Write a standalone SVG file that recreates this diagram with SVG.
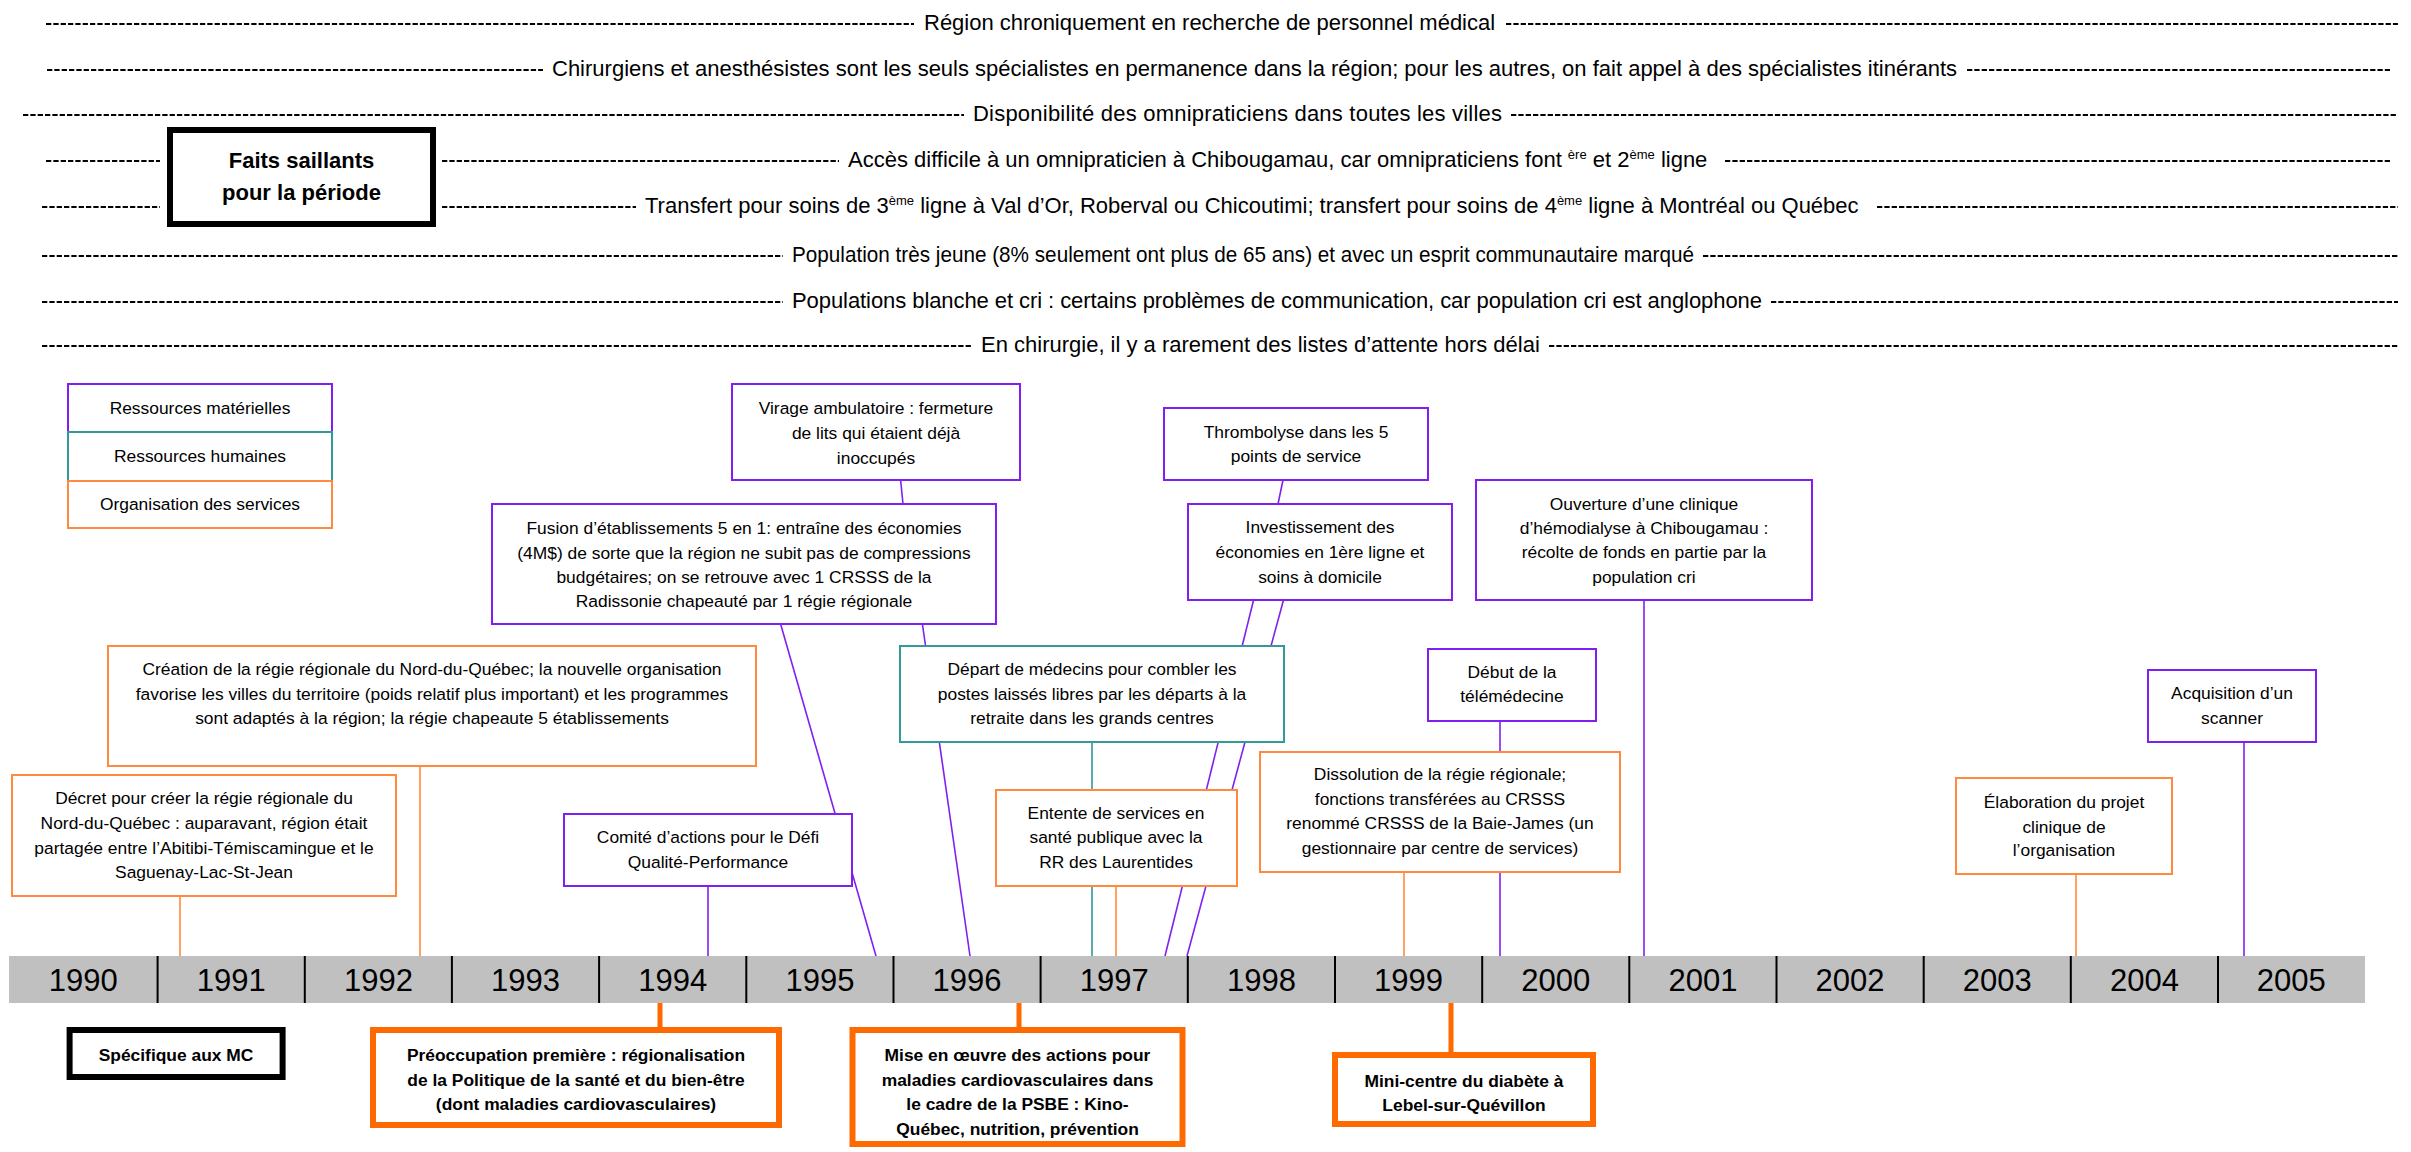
<svg xmlns="http://www.w3.org/2000/svg" width="2411" height="1152" viewBox="0 0 2411 1152">
  <style>
    text { font-family: "Liberation Sans", Arial, sans-serif; fill: #000; }
    .t { font-size: 17.4px; text-anchor: middle; }
    .top { font-size: 22px; }
    .b { font-weight: bold; }
    .sup { font-size: 13px; }
    .yr { font-size: 31px; text-anchor: middle; }
    .box { fill: #fff; stroke-width: 2; }
    .thick { fill: #fff; stroke-width: 6; }
    .mat { stroke: #8020F0; }
    .hum { stroke: #339999; }
    .org { stroke: #FF8A3D; }
    .org2 { stroke: #FF6A00; }
    .blk { stroke: #000; }
    .dash { stroke: #000; stroke-width: 1.8; stroke-dasharray: 5.3 2.03; fill: none; }
    .ln { stroke-width: 1.6; fill: none; }
    .lnk { stroke-width: 5; fill: none; stroke: #FF6A00; }
    .div { stroke: #000; stroke-width: 2; }
  </style>

  <!-- period highlights: dotted leaders with centred statements -->
  <g id="highlights">
    <path class="dash" d="M46 24H914 M1506 24H2398"/>
    <text class="top" x="924" y="30">Région chroniquement en recherche de personnel médical</text>

    <path class="dash" d="M47 70H543 M1967 70H2390"/>
    <text class="top" x="552" y="76">Chirurgiens et anesthésistes sont les seuls spécialistes en permanence dans la région; pour les autres, on fait appel à des spécialistes itinérants</text>

    <path class="dash" d="M23 115H964 M1511 115H2398"/>
    <text class="top" x="973" y="121" textLength="529" lengthAdjust="spacing">Disponibilité des omnipraticiens dans toutes les villes</text>

    <path class="dash" d="M46 161H160 M442 161H839 M1725 161H2390"/>
    <text class="top" x="848" y="167">Accès difficile à un omnipraticien à Chibougamau, car omnipraticiens font <tspan class="sup" dy="-8">ère</tspan><tspan dy="8"> et 2</tspan><tspan class="sup" dy="-8">ème</tspan><tspan dy="8"> ligne</tspan></text>

    <path class="dash" d="M42 207H160 M442 207H636 M1877 207H2398"/>
    <text class="top" x="645" y="213">Transfert pour soins de 3<tspan class="sup" dy="-8">ème</tspan><tspan dy="8"> ligne à Val d’Or, Roberval ou Chicoutimi; transfert pour soins de 4</tspan><tspan class="sup" dy="-8">ème</tspan><tspan dy="8"> ligne à Montréal ou Québec</tspan></text>

    <path class="dash" d="M42 256H783 M1703 256H2398"/>
    <text class="top" x="792" y="262" textLength="902" lengthAdjust="spacingAndGlyphs">Population très jeune (8% seulement ont plus de 65 ans) et avec un esprit communautaire marqué</text>

    <path class="dash" d="M42 302H783 M1771 302H2398"/>
    <text class="top" x="792" y="308" textLength="970" lengthAdjust="spacing">Populations blanche et cri : certains problèmes de communication, car population cri est anglophone</text>

    <path class="dash" d="M42 346H972 M1549 346H2398"/>
    <text class="top" x="981" y="352">En chirurgie, il y a rarement des listes d’attente hors délai</text>
  </g>

  <g id="faits-saillants">
    <rect class="thick blk" x="170" y="130" width="263" height="94"/>
    <text class="t b" style="font-size:22px" x="301.5" y="168">Faits saillants</text>
    <text class="t b" style="font-size:22px" x="301.5" y="200">pour la période</text>
  </g>

  <!-- legend -->
  <g id="legend">
    <rect class="box mat" x="68" y="384" width="264" height="48"/>
    <rect class="box hum" x="68" y="432" width="264" height="49"/>
    <rect class="box org" x="68" y="481" width="264" height="47"/>
    <text class="t" x="200" y="414">Ressources matérielles</text>
    <text class="t" x="200" y="462">Ressources humaines</text>
    <text class="t" x="200" y="510">Organisation des services</text>
  </g>

  <!-- connectors from events to the year bar -->
  <g id="connectors">
    <path class="ln mat" d="M900.6 480L903 504"/>
    <path class="ln mat" d="M1283 480L1278 504"/>
    <path class="ln mat" d="M780.6 624L876 956"/>
    <path class="ln mat" d="M922.4 624L970 956"/>
    <path class="ln mat" d="M1253.6 600L1165 956"/>
    <path class="ln mat" d="M1283.5 600L1187 956"/>
    <path class="ln mat" d="M1644 600V956"/>
    <path class="ln org" d="M420 766V956"/>
    <path class="ln org" d="M180 896V956"/>
    <path class="ln mat" d="M708 886V956"/>
    <path class="ln hum" d="M1092 742V956"/>
    <path class="ln org" d="M1116 886V956"/>
    <path class="ln mat" d="M1500 721V956"/>
    <path class="ln org" d="M1404 872V956"/>
    <path class="ln org" d="M2076 874V956"/>
    <path class="ln mat" d="M2244 742V956"/>
    <path class="lnk" d="M660 1003V1027 M1019 1003V1027 M1451 1003V1052"/>
  </g>

  <g id="virage">
    <rect class="box mat" x="732" y="384" width="288" height="96"/>
    <text class="t" x="876" y="414">Virage ambulatoire : fermeture</text>
    <text class="t" x="876" y="439">de lits qui étaient déjà</text>
    <text class="t" x="876" y="464">inoccupés</text>
  </g>

  <g id="thrombolyse">
    <rect class="box mat" x="1164" y="408" width="264" height="72"/>
    <text class="t" x="1296" y="438">Thrombolyse dans les 5</text>
    <text class="t" x="1296" y="462">points de service</text>
  </g>

  <g id="fusion">
    <rect class="box mat" x="492" y="504" width="504" height="120"/>
    <text class="t" x="744" y="534">Fusion d’établissements 5 en 1: entraîne des économies</text>
    <text class="t" x="744" y="559">(4M$) de sorte que la région ne subit pas de compressions</text>
    <text class="t" x="744" y="583">budgétaires; on se retrouve avec 1 CRSSS de la</text>
    <text class="t" x="744" y="607">Radissonie chapeauté par 1 régie régionale</text>
  </g>

  <g id="investissement">
    <rect class="box mat" x="1188" y="504" width="264" height="96"/>
    <text class="t" x="1320" y="533">Investissement des</text>
    <text class="t" x="1320" y="558">économies en 1ère ligne et</text>
    <text class="t" x="1320" y="583">soins à domicile</text>
  </g>

  <g id="ouverture">
    <rect class="box mat" x="1476" y="480" width="336" height="120"/>
    <text class="t" x="1644" y="510">Ouverture d’une clinique</text>
    <text class="t" x="1644" y="534">d’hémodialyse à Chibougamau :</text>
    <text class="t" x="1644" y="558">récolte de fonds en partie par la</text>
    <text class="t" x="1644" y="583">population cri</text>
  </g>

  <g id="creation">
    <rect class="box org" x="108" y="646" width="648" height="120"/>
    <text class="t" x="432" y="675">Création de la régie régionale du Nord-du-Québec; la nouvelle organisation</text>
    <text class="t" x="432" y="700">favorise les villes du territoire (poids relatif plus important) et les programmes</text>
    <text class="t" x="432" y="724">sont adaptés à la région; la régie chapeaute 5 établissements</text>
  </g>

  <g id="depart">
    <rect class="box hum" x="900" y="646" width="384" height="96"/>
    <text class="t" x="1092" y="675">Départ de médecins pour combler les</text>
    <text class="t" x="1092" y="700">postes laissés libres par les départs à la</text>
    <text class="t" x="1092" y="724">retraite dans les grands centres</text>
  </g>

  <g id="debut">
    <rect class="box mat" x="1428" y="649" width="168" height="72"/>
    <text class="t" x="1512" y="678">Début de la</text>
    <text class="t" x="1512" y="702">télémédecine</text>
  </g>

  <g id="acquisition">
    <rect class="box mat" x="2148" y="670" width="168" height="72"/>
    <text class="t" x="2232" y="699">Acquisition d’un</text>
    <text class="t" x="2232" y="724">scanner</text>
  </g>

  <g id="decret">
    <rect class="box org" x="12" y="775" width="384" height="121"/>
    <text class="t" x="204" y="804">Décret pour créer la régie régionale du</text>
    <text class="t" x="204" y="829">Nord-du-Québec : auparavant, région était</text>
    <text class="t" x="204" y="854">partagée entre l’Abitibi-Témiscamingue et le</text>
    <text class="t" x="204" y="878">Saguenay-Lac-St-Jean</text>
  </g>

  <g id="comite">
    <rect class="box mat" x="564" y="814" width="288" height="72"/>
    <text class="t" x="708" y="843">Comité d’actions pour le Défi</text>
    <text class="t" x="708" y="868">Qualité-Performance</text>
  </g>

  <g id="entente">
    <rect class="box org" x="996" y="790" width="241" height="96"/>
    <text class="t" x="1116" y="819">Entente de services en</text>
    <text class="t" x="1116" y="843">santé publique avec la</text>
    <text class="t" x="1116" y="868">RR des Laurentides</text>
  </g>

  <g id="dissolution">
    <rect class="box org" x="1260" y="752" width="360" height="120"/>
    <text class="t" x="1440" y="780">Dissolution de la régie régionale;</text>
    <text class="t" x="1440" y="805">fonctions transférées au CRSSS</text>
    <text class="t" x="1440" y="829">renommé CRSSS de la Baie-James (un</text>
    <text class="t" x="1440" y="854">gestionnaire par centre de services)</text>
  </g>

  <g id="elaboration">
    <rect class="box org" x="1956" y="778" width="216" height="96"/>
    <text class="t" x="2064" y="808">Élaboration du projet</text>
    <text class="t" x="2064" y="833">clinique de</text>
    <text class="t" x="2064" y="856">l’organisation</text>
  </g>

  <!-- year bar -->
  <g id="timeline">
    <rect x="9" y="956" width="2356" height="47" fill="#C0C0C0"/>
    <path class="div" d="M157.6 956V1003 M304.8 956V1003 M451.9 956V1003 M599.1 956V1003 M746.3 956V1003 M893.5 956V1003 M1040.6 956V1003 M1187.8 956V1003 M1335 956V1003 M1482.2 956V1003 M1629.3 956V1003 M1776.5 956V1003 M1923.7 956V1003 M2070.8 956V1003 M2218 956V1003"/>
    <text class="yr" x="83.3" y="991">1990</text>
    <text class="yr" x="231.2" y="991">1991</text>
    <text class="yr" x="378.4" y="991">1992</text>
    <text class="yr" x="525.5" y="991">1993</text>
    <text class="yr" x="672.7" y="991">1994</text>
    <text class="yr" x="819.9" y="991">1995</text>
    <text class="yr" x="967.1" y="991">1996</text>
    <text class="yr" x="1114.2" y="991">1997</text>
    <text class="yr" x="1261.4" y="991">1998</text>
    <text class="yr" x="1408.6" y="991">1999</text>
    <text class="yr" x="1555.8" y="991">2000</text>
    <text class="yr" x="1702.9" y="991">2001</text>
    <text class="yr" x="1850.1" y="991">2002</text>
    <text class="yr" x="1997.3" y="991">2003</text>
    <text class="yr" x="2144.4" y="991">2004</text>
    <text class="yr" x="2291.3" y="991">2005</text>
  </g>

  <g id="specifique">
    <rect class="thick blk" x="69.6" y="1030" width="213" height="47"/>
    <text class="t b" x="176" y="1061">Spécifique aux MC</text>
  </g>

  <g id="preoccupation">
    <rect class="thick org2" x="373" y="1030" width="406" height="95"/>
    <text class="t b" x="576" y="1061">Préoccupation première : régionalisation</text>
    <text class="t b" x="576" y="1086">de la Politique de la santé et du bien-être</text>
    <text class="t b" x="576" y="1110">(dont maladies cardiovasculaires)</text>
  </g>

  <g id="mise-en-oeuvre">
    <rect class="thick org2" x="852.5" y="1030" width="330" height="114"/>
    <text class="t b" x="1017.5" y="1061">Mise en œuvre des actions pour</text>
    <text class="t b" x="1017.5" y="1086">maladies cardiovasculaires dans</text>
    <text class="t b" x="1017.5" y="1110">le cadre de la PSBE : Kino-</text>
    <text class="t b" x="1017.5" y="1135">Québec, nutrition, prévention</text>
  </g>

  <g id="mini-centre">
    <rect class="thick org2" x="1335" y="1055" width="258" height="69"/>
    <text class="t b" x="1464" y="1087">Mini-centre du diabète à</text>
    <text class="t b" x="1464" y="1111">Lebel-sur-Quévillon</text>
  </g>
</svg>
